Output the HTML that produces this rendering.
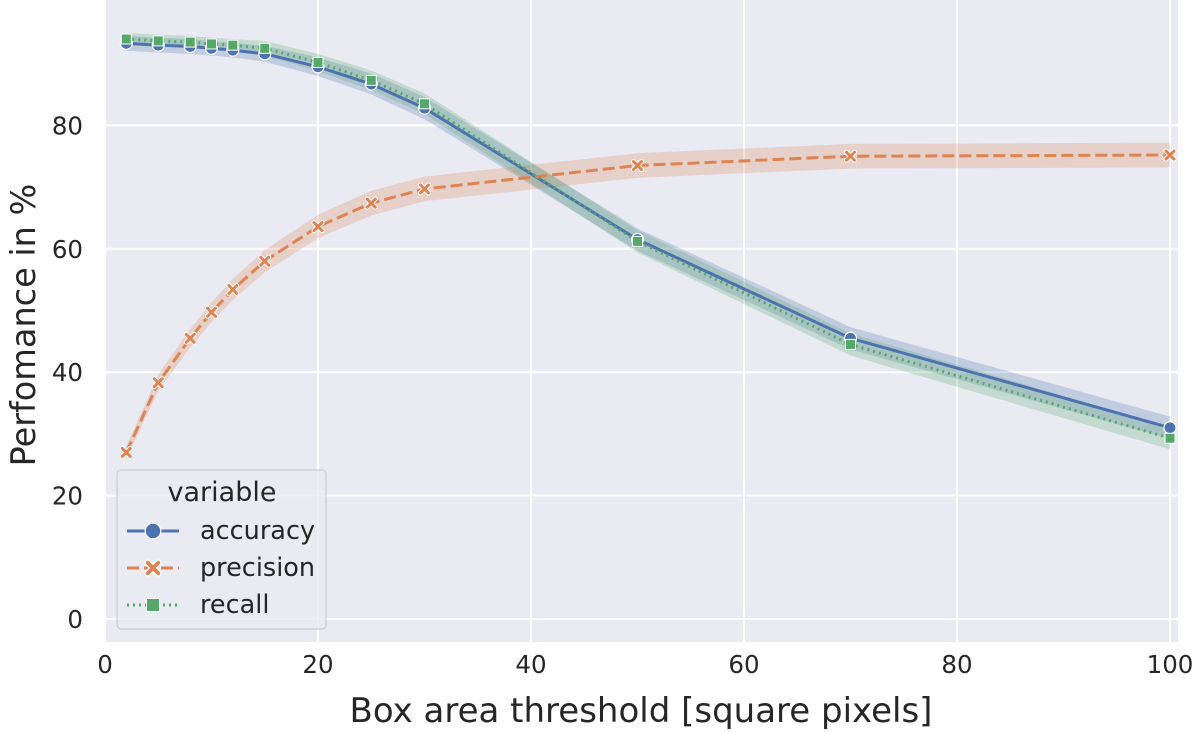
<!DOCTYPE html>
<html><head><meta charset="utf-8">
<style>
html,body{margin:0;padding:0;background:#fff;}
svg{display:block;font-family:"DejaVu Sans","Liberation Sans",sans-serif;}
</style></head>
<body>
<svg id="chart" width="1200" height="732"></svg>
<script>
const thresholds=[2,5,8,10,12,15,20,25,30,50,70,100];
const accuracy=[93.3,93.0,92.8,92.5,92.2,91.6,89.5,86.7,82.8,61.5,45.5,31.0];
const precision=[27.0,38.3,45.5,49.7,53.4,58.0,63.6,67.4,69.7,73.5,75.0,75.2];
const recall=[94.0,93.7,93.5,93.2,93.0,92.5,90.2,87.3,83.5,61.2,44.5,29.3];
const bandAcc=[1.2,1.2,1.2,1.2,1.2,1.3,1.5,1.7,1.8,1.8,1.8,1.8];
const bandPrec=[1.0,1.3,1.5,1.6,1.7,1.8,1.9,2.0,2.0,2.0,2.0,2.0];
const bandRec=[1.0,1.0,1.0,1.0,1.0,1.2,1.4,1.6,1.7,1.8,1.8,1.8];
const xTicks=[0,20,40,60,80,100];
const yTicks=[0,20,40,60,80];

const NS="http://www.w3.org/2000/svg";
const svg=document.getElementById('chart');
const L=105,R=1178,T=0,B=642;
const xs=v=>105+v*10.65;
const ys=v=>619-v*6.17;
function mk(tag,at,parent){const e=document.createElementNS(NS,tag);for(const k in at)e.setAttribute(k,at[k]);(parent||svg).appendChild(e);return e;}

const bg=mk('rect',{x:L,y:T,width:R-L,height:B-T,fill:'#eaeaf2'});



xTicks.forEach(t=>{
  const g=mk('line',{x1:xs(t),x2:xs(t),y1:T,y2:B,stroke:'#fff','stroke-width':2});
  
  
  const tx=mk('text',{x:xs(t),y:673,'text-anchor':'middle','font-size':24.5,fill:'#262626'});
  tx.textContent=t;
  
  
});
yTicks.forEach(t=>{
  const g=mk('line',{x1:L,x2:R,y1:ys(t),y2:ys(t),stroke:'#fff','stroke-width':2});
  
  
  const tx=mk('text',{x:83,y:ys(t)+9,'text-anchor':'end','font-size':24.5,fill:'#262626'});
  tx.textContent=t;
  
  
});

const series=[
 {name:'accuracy',vals:accuracy,band:bandAcc,color:'#4c72b0',dash:'',marker:'circle'},
 {name:'precision',vals:precision,band:bandPrec,color:'#dd8452',dash:'12,5',marker:'x'},
 {name:'recall',vals:recall,band:bandRec,color:'#55a868',dash:'2,4',marker:'square'}
];
function drawMarker(type,x,y,color,parent,s){
  s=s||1;
  let m;
  if(type==='circle') m=mk('circle',{cx:x,cy:y,r:6*s,fill:color,stroke:'#fff','stroke-width':1.2},parent);
  else if(type==='square') m=mk('rect',{x:x-5*s,y:y-5*s,width:10*s,height:10*s,fill:color,stroke:'#fff','stroke-width':1},parent);
  else {
    m=mk('g',{},parent);
    const d=`M${x-4*s},${y-4*s}L${x+4*s},${y+4*s}M${x+4*s},${y-4*s}L${x-4*s},${y+4*s}`;
    mk('path',{d:d,stroke:'#fff','stroke-width':5*s,'stroke-linecap':'round'},m);
    mk('path',{d:d,stroke:color,'stroke-width':3*s,'stroke-linecap':'round'},m);
  }
  return m;
}
series.forEach(s=>{
  let up=thresholds.map((t,i)=>xs(t)+','+ys(s.vals[i]+s.band[i]));
  let dn=thresholds.map((t,i)=>xs(t)+','+ys(s.vals[i]-s.band[i])).reverse();
  const band=mk('polygon',{points:up.concat(dn).join(' '),fill:s.color,'fill-opacity':0.25,stroke:'none'});
  
  
});
series.forEach(s=>{
  const pts=thresholds.map((t,i)=>xs(t)+','+ys(s.vals[i])).join(' ');
  const line=mk('polyline',{points:pts,fill:'none',stroke:s.color,'stroke-width':3,'stroke-dasharray':s.dash});
  
  
  thresholds.forEach((t,i)=>{
    const m=drawMarker(s.marker,xs(t),ys(s.vals[i]),s.color);
    
    
  });
});

const xt=mk('text',{x:641,y:722,'text-anchor':'middle','font-size':34,fill:'#262626'});
xt.textContent='Box area threshold [square pixels]';


const yt=mk('text',{x:0,y:0,'text-anchor':'middle','font-size':33.5,fill:'#262626',transform:'translate(35,325) rotate(-90)'});
yt.textContent='Perfomance in %';



const lg=mk('g',{});


mk('rect',{x:117,y:470,width:209,height:159,rx:4,fill:'#eaeaf2','fill-opacity':0.8,stroke:'#cccccc','stroke-width':1.2},lg);
const lt=mk('text',{x:222,y:501,'text-anchor':'middle','font-size':27,fill:'#262626'},lg);
lt.textContent='variable';


series.forEach((s,i)=>{
  const y=531+i*37;
  const e=mk('g',{},lg);
  
  
  mk('line',{x1:127,x2:179,y1:y,y2:y,stroke:s.color,'stroke-width':3,'stroke-dasharray':s.dash},e);
  drawMarker(s.marker,153,y,s.color,e,1.3);
  const t=mk('text',{x:200,y:y+8,'font-size':25.5,fill:'#262626'},e);
  t.textContent=s.name;
});
</script>
</body></html>
